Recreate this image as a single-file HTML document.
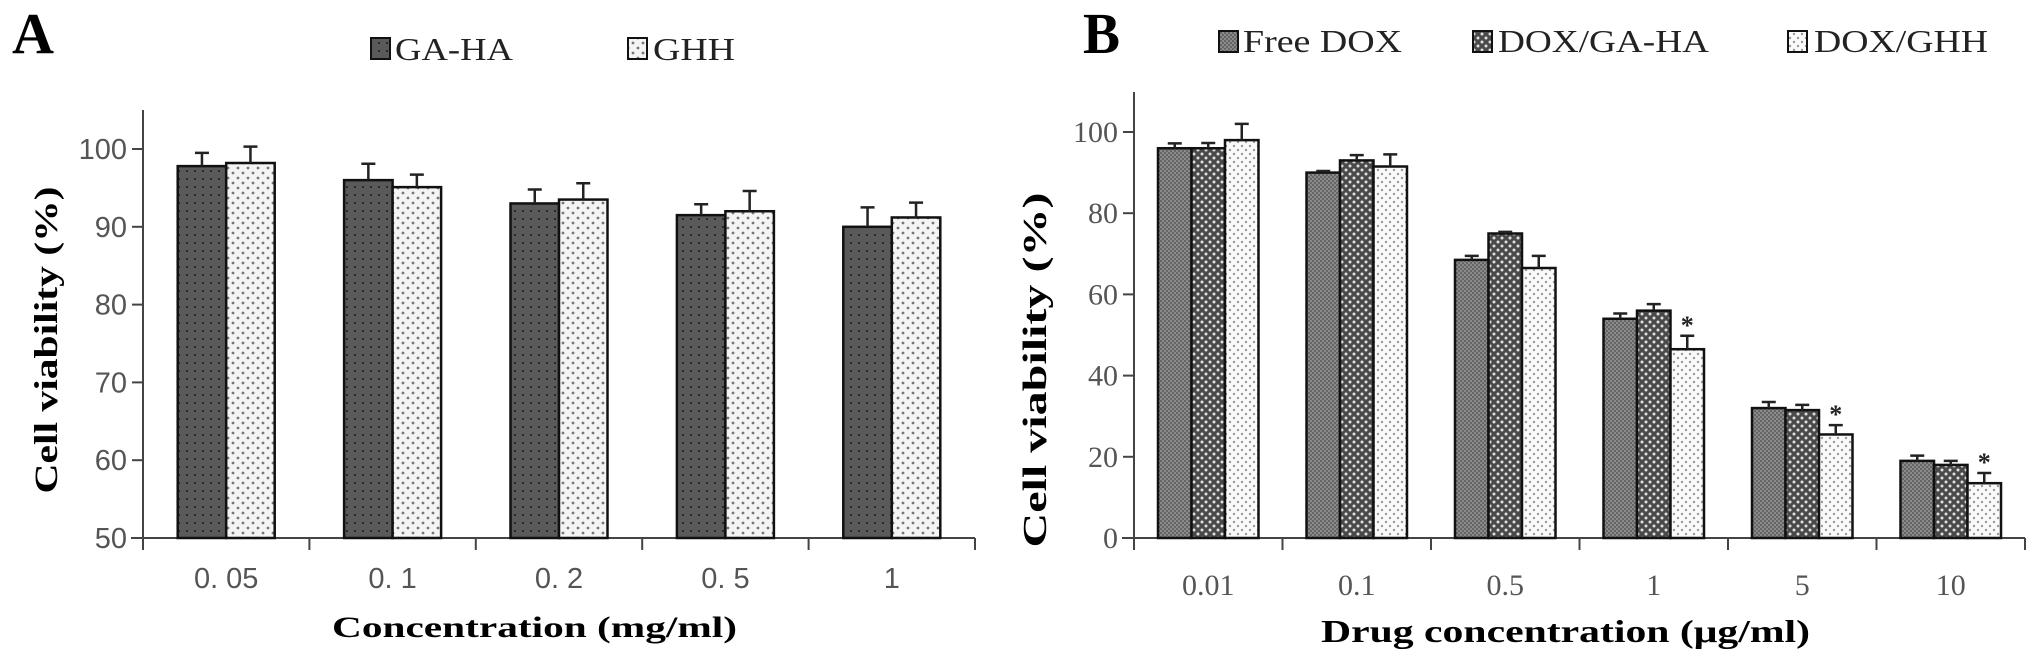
<!DOCTYPE html>
<html><head><meta charset="utf-8">
<style>
html,body{margin:0;padding:0;background:#fff;}
svg{display:block;}
text{font-family:"Liberation Serif",serif;}
</style></head>
<body>
<svg id="fig" width="2031" height="666" viewBox="0 0 2031 666" xmlns="http://www.w3.org/2000/svg">
<defs>
  <pattern id="pGAHA" width="8" height="8" patternUnits="userSpaceOnUse">
    <rect width="8" height="8" fill="#5a5a5a"/><rect x="2" y="2" width="2" height="2" fill="#2a2a2a"/>
  </pattern>
  <pattern id="pGHH" width="10" height="10" patternUnits="userSpaceOnUse">
    <rect width="10" height="10" fill="#f4f4f4"/><circle cx="3" cy="3" r="1.4" fill="#777"/><circle cx="8" cy="8" r="1.4" fill="#777"/>
  </pattern>
  <pattern id="pFree" width="4" height="4" patternUnits="userSpaceOnUse">
    <rect width="4" height="4" fill="#8a8a8a"/><rect width="2" height="2" fill="#666"/><rect x="2" y="2" width="2" height="2" fill="#666"/>
  </pattern>
  <pattern id="pDGA" width="8" height="8" patternUnits="userSpaceOnUse">
    <rect width="8" height="8" fill="#4a4a4a"/><circle cx="2" cy="2" r="1.5" fill="#ddd"/><circle cx="6" cy="6" r="1.5" fill="#ddd"/>
  </pattern>
  <pattern id="pDGHH" width="8" height="8" patternUnits="userSpaceOnUse">
    <rect width="8" height="8" fill="#fafafa"/><circle cx="2" cy="2" r="1.2" fill="#999"/><circle cx="6" cy="6" r="1.2" fill="#999"/>
  </pattern>
</defs>
<g id="gA"></g>
<g id="gB"></g>
</svg>
<script>
// Panel A data
const catsA = ["0. 05","0. 1","0. 2","0. 5","1"];
const gahaA = [97.8, 96.0, 93.0, 91.5, 90.0];
const gahaErrA = [1.7, 2.1, 1.8, 1.4, 2.5];
const ghhA = [98.2, 95.1, 93.5, 92.0, 91.2];
const ghhErrA = [2.1, 1.6, 2.1, 2.6, 1.9];
const ticksA = [50, 60, 70, 80, 90, 100];
// Panel B data
const catsB = ["0.01","0.1","0.5","1","5","10"];
const freeB = [96, 90, 68.5, 54, 32, 19];
const freeErrB = [1.2, 0.4, 1.0, 1.3, 1.5, 1.3];
const dgaB = [96, 93, 75, 56, 31.5, 18];
const dgaErrB = [1.3, 1.3, 0.4, 1.6, 1.3, 1.0];
const dghhB = [98, 91.5, 66.5, 46.5, 25.5, 13.5];
const dghhErrB = [4.0, 3.0, 3.0, 3.3, 2.3, 2.5];
const starsB = [false, false, false, true, true, true];
const ticksB = [0, 20, 40, 60, 80, 100];

const NS = "http://www.w3.org/2000/svg";
function mk(tag, attrs, parent, txt) {
  const e = document.createElementNS(NS, tag);
  for (const k in attrs) e.setAttribute(k, attrs[k]);
  if (txt !== undefined) e.textContent = txt;
  parent.appendChild(e);
  return e;
}

function panel(g, cfg) {
  const y = v => cfg.y0 - (v - cfg.vmin) / (cfg.vmax - cfg.vmin) * (cfg.y0 - cfg.y100);
  const cw = (cfg.x1 - cfg.x0) / cfg.cats.length;
  const cx = i => cfg.x0 + cw * (i + 0.5);
  // axes
  let a = mk("line", {x1: cfg.x0, y1: cfg.ytop, x2: cfg.x0, y2: cfg.y0, stroke: "#444", "stroke-width": 2}, g);
  
  
  a = mk("line", {x1: cfg.x0 - 12, y1: cfg.y0, x2: cfg.x1, y2: cfg.y0, stroke: "#444", "stroke-width": 2}, g);
  
  
  cfg.ticks.forEach(t => {
    const yy = y(t);
    const tl = mk("line", {x1: cfg.x0 - 11, y1: yy, x2: cfg.x0, y2: yy, stroke: "#444", "stroke-width": 2}, g);
    
    
    const tx = mk("text", {x: cfg.x0 - 16, y: yy + 10, "text-anchor": "end", "font-size": cfg.tickFs, fill: "#555", style: cfg.tickFont}, g, String(t));
    
    
  });
  for (let i = 0; i <= cfg.cats.length; i++) {
    const xx = cfg.x0 + cw * i;
    const tl = mk("line", {x1: xx, y1: cfg.y0, x2: xx, y2: cfg.y0 + 12, stroke: "#444", "stroke-width": 2}, g);
    
    
  }
  cfg.cats.forEach((c, i) => {
    const tx = mk("text", {x: cx(i), y: cfg.labY, "text-anchor": "middle", "font-size": cfg.tickFs, fill: "#555", style: cfg.tickFont}, g, c);
    
    
  });
  const n = cfg.series.length;
  cfg.series.forEach((s, k) => {
    s.vals.forEach((v, i) => {
      const bx = cx(i) - n * cfg.bw / 2 + k * cfg.bw;
      const r = mk("rect", {x: bx, y: y(v), width: cfg.bw, height: cfg.y0 - y(v), fill: s.fill, stroke: "#111", "stroke-width": 2.5}, g);
      
      
      const ex = bx + cfg.bw / 2, et = y(v + s.err[i]);
      const el = mk("path", {d: `M${ex},${y(v)}V${et}M${ex - 7},${et}H${ex + 7}`, stroke: "#222", "stroke-width": 2.5, fill: "none"}, g);
      
      
      if (s.stars && s.stars[i]) {
        const st = mk("text", {x: ex, y: et - 2, "text-anchor": "middle", "font-size": 26, "font-weight": "bold", fill: "#222"}, g, "*");
        
        
      }
    });
  });
}

const gA = document.getElementById("gA");
panel(gA, {x0: 143, x1: 975, y0: 538, y100: 149, ytop: 110, vmin: 50, vmax: 100, cats: catsA, ticks: ticksA,
  bw: 48.5, tickFs: 29, labY: 588, tickFont: 'font-family:"Liberation Sans",sans-serif',
  series: [{name: "ga-ha", vals: gahaA, err: gahaErrA, fill: "url(#pGAHA)"},
           {name: "ghh", vals: ghhA, err: ghhErrA, fill: "url(#pGHH)"}]});
const gB = document.getElementById("gB");
panel(gB, {x0: 1134, x1: 2025, y0: 538, y100: 132, ytop: 92, vmin: 0, vmax: 100, cats: catsB, ticks: ticksB,
  bw: 33.5, tickFs: 30, labY: 595, tickFont: 'font-family:"Liberation Serif",serif',
  series: [{name: "free-dox", vals: freeB, err: freeErrB, fill: "url(#pFree)"},
           {name: "dox-ga-ha", vals: dgaB, err: dgaErrB, fill: "url(#pDGA)"},
           {name: "dox-ghh", vals: dghhB, err: dghhErrB, fill: "url(#pDGHH)", stars: starsB}]});
</script>
<svg style="position:absolute;left:0;top:0" width="2031" height="666" xmlns="http://www.w3.org/2000/svg">
  <text x="12" y="53" font-size="58" font-weight="bold" textLength="42" lengthAdjust="spacingAndGlyphs">A</text>
  <text x="1083" y="53" font-size="58" font-weight="bold" textLength="37" lengthAdjust="spacingAndGlyphs">B</text>
  <g>
    <rect x="371" y="38" width="19" height="21" fill="url(#pGAHA)" stroke="#111" stroke-width="2"/>
    <text x="395" y="60" font-size="32" fill="#222" textLength="118" lengthAdjust="spacingAndGlyphs">GA-HA</text>
    <rect x="628" y="38" width="19" height="21" fill="url(#pGHH)" stroke="#111" stroke-width="2"/>
    <text x="653" y="60" font-size="32" fill="#222" textLength="82" lengthAdjust="spacingAndGlyphs">GHH</text>
  </g>
  <g>
    <rect x="1219" y="31" width="19" height="21" fill="url(#pFree)" stroke="#111" stroke-width="2"/>
    <text x="1243" y="52" font-size="32" fill="#222" textLength="159" lengthAdjust="spacingAndGlyphs">Free DOX</text>
    <rect x="1473" y="31" width="19" height="21" fill="url(#pDGA)" stroke="#111" stroke-width="2"/>
    <text x="1498" y="52" font-size="32" fill="#222" textLength="211" lengthAdjust="spacingAndGlyphs">DOX/GA-HA</text>
    <rect x="1788" y="31" width="19" height="21" fill="url(#pDGHH)" stroke="#111" stroke-width="2"/>
    <text x="1814" y="52" font-size="32" fill="#222" textLength="174" lengthAdjust="spacingAndGlyphs">DOX/GHH</text>
  </g>
  <text x="332" y="637" font-size="30" font-weight="bold" textLength="405" lengthAdjust="spacingAndGlyphs">Concentration (mg/ml)</text>
  <text x="1321" y="642" font-size="32" font-weight="bold" textLength="489" lengthAdjust="spacingAndGlyphs">Drug concentration (μg/ml)</text>
  <text transform="translate(57,340) rotate(-90)" text-anchor="middle" font-size="33" font-weight="bold" textLength="307" lengthAdjust="spacingAndGlyphs">Cell viability (%)</text>
  <text transform="translate(1046,370) rotate(-90)" text-anchor="middle" font-size="34" font-weight="bold" textLength="355" lengthAdjust="spacingAndGlyphs">Cell viability (%)</text>
</svg>
</body></html>
